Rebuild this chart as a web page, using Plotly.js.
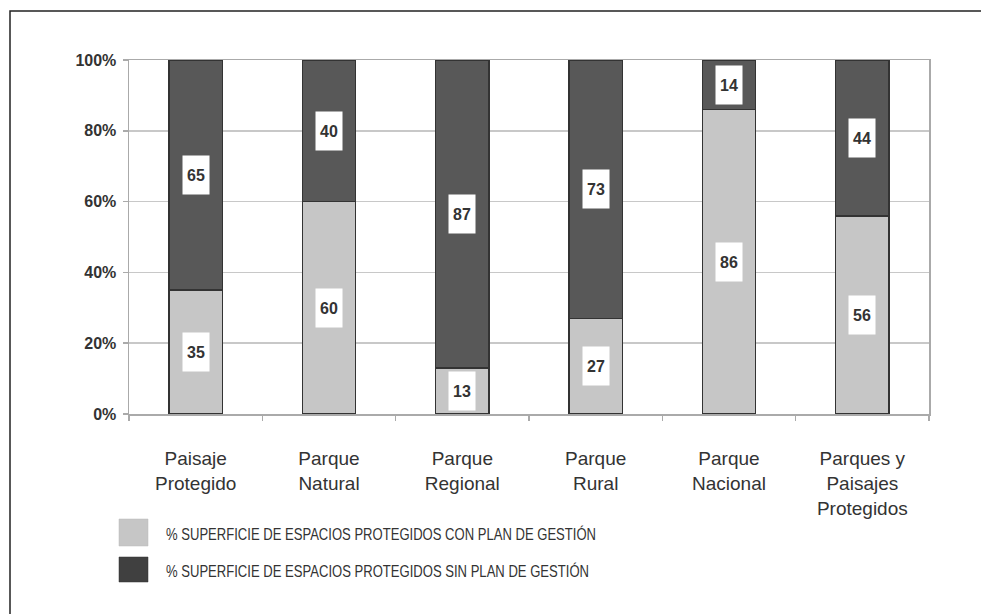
<!DOCTYPE html>
<html>
<head>
<meta charset="utf-8">
<script src="https://cdn.plot.ly/plotly-3.0.1.min.js"></script>
<style>html,body{margin:0;padding:0;background:#fff;}#chart{width:981px;height:614px;}</style>
</head>
<body>
<div id="chart"></div>
<script>
const categories = ["Paisaje<br>Protegido", "Parque<br>Natural", "Parque<br>Regional", "Parque<br>Rural", "Parque<br>Nacional", "Parques y<br>Paisajes<br>Protegidos"];
const conPlan = [35, 60, 13, 27, 86, 56];
const sinPlan = [65, 40, 87, 73, 14, 44];
const seriesNames = ["% SUPERFICIE DE ESPACIOS PROTEGIDOS CON PLAN DE GESTIÓN", "% SUPERFICIE DE ESPACIOS PROTEGIDOS SIN PLAN DE GESTIÓN"];
const yTickVals = [0, 20, 40, 60, 80, 100];
const yTickText = ["0%", "20%", "40%", "60%", "80%", "100%"];

const FONT = "'Liberation Sans', Arial, sans-serif";
const lightFill = "#c6c6c6", darkFill = "#585858", outline = "#333333";

const traces = [
  {type: "bar", x: categories, y: conPlan, name: seriesNames[0], marker: {color: lightFill, line: {color: outline, width: 1.5}}, width: 0.4, showlegend: false, hoverinfo: "none"},
  {type: "bar", x: categories, y: sinPlan, name: seriesNames[1], marker: {color: darkFill, line: {color: outline, width: 1.5}}, width: 0.4, showlegend: false, hoverinfo: "none"}
];

const annotations = [];
categories.forEach((c, i) => {
  annotations.push({x: c, y: conPlan[i] / 2, xref: "x", yref: "y", text: "<b>" + conPlan[i] + "</b>", showarrow: false, bgcolor: "#ffffff", width: 24, height: 36, font: {family: FONT, size: 16, color: "#333"}});
  annotations.push({x: c, y: conPlan[i] + sinPlan[i] / 2, xref: "x", yref: "y", text: "<b>" + sinPlan[i] + "</b>", showarrow: false, bgcolor: "#ffffff", width: 24, height: 36, font: {family: FONT, size: 16, color: "#333"}});
});

// pixel -> paper helpers (plot area: x 129..929, y 60..414)
const px = v => (v - 129) / 800;
const py = v => (414 - v) / 354;

// legend (drawn as shapes + text)
const shapes = [
  {type: "rect", xref: "paper", yref: "paper", x0: px(10), x1: px(1000), y0: py(640), y1: py(11), line: {color: "#222", width: 1.5}, fillcolor: "rgba(0,0,0,0)", layer: "below"},
  {type: "rect", xref: "paper", yref: "paper", x0: px(119), x1: px(148), y0: py(546), y1: py(519), line: {color: "#bbb", width: 0.5}, fillcolor: lightFill},
  {type: "rect", xref: "paper", yref: "paper", x0: px(119), x1: px(148), y0: py(582), y1: py(557), line: {color: "#333", width: 0.5}, fillcolor: "#404040"}
];
annotations.push({xref: "paper", yref: "paper", x: px(164), y: py(534), xanchor: "left", yanchor: "middle", text: seriesNames[0], showarrow: false, font: {family: FONT, size: 17, color: "#333"}});
annotations.push({xref: "paper", yref: "paper", x: px(164), y: py(571), xanchor: "left", yanchor: "middle", text: seriesNames[1], showarrow: false, font: {family: FONT, size: 17, color: "#333"}});

const layout = {
  width: 981, height: 614,
  margin: {l: 129, r: 52, t: 60, b: 200},
  paper_bgcolor: "#ffffff", plot_bgcolor: "#ffffff",
  barmode: "stack",
  showlegend: false,
  font: {family: FONT, color: "#333"},
  xaxis: {
    type: "category", tickson: "boundaries", ticks: "outside", ticklen: 5, tickcolor: "#aaa", tickwidth: 1.5,
    showline: true, linecolor: "#aaa", linewidth: 1.5, mirror: true, showgrid: false,
    tickfont: {family: FONT, size: 19, color: "#333"}, ticklabelstandoff: 27, automargin: false
  },
  yaxis: {
    range: [0, 100], tickvals: yTickVals, ticktext: yTickText, ticks: "outside", ticklen: 5, tickcolor: "#aaa", tickwidth: 1.5,
    showline: true, linecolor: "#aaa", linewidth: 1.5, mirror: true,
    showgrid: true, gridcolor: "#c8c8c8", gridwidth: 1.5, zeroline: false,
    tickfont: {family: FONT, size: 16, color: "#333", weight: "bold"}, ticklabelstandoff: 3, automargin: false
  },
  annotations: annotations,
  shapes: shapes
};

Plotly.newPlot("chart", traces, layout, {displayModeBar: false, staticPlot: true}).then(gd => {
  // condense the legend labels to match the narrow typeface of the original
  const widths = {};
  widths[seriesNames[0]] = 430;
  widths[seriesNames[1]] = 423;
  gd.querySelectorAll("text.annotation-text").forEach(t => {
    const w = widths[t.textContent];
    if (w) {
      const bb = t.getBBox();
      t.setAttribute("text-anchor", "start");
      t.style.textAnchor = "start";
      t.setAttribute("x", bb.x);
      t.setAttribute("textLength", w);
      t.setAttribute("lengthAdjust", "spacingAndGlyphs");
    }
  });
});
</script>
</body>
</html>
